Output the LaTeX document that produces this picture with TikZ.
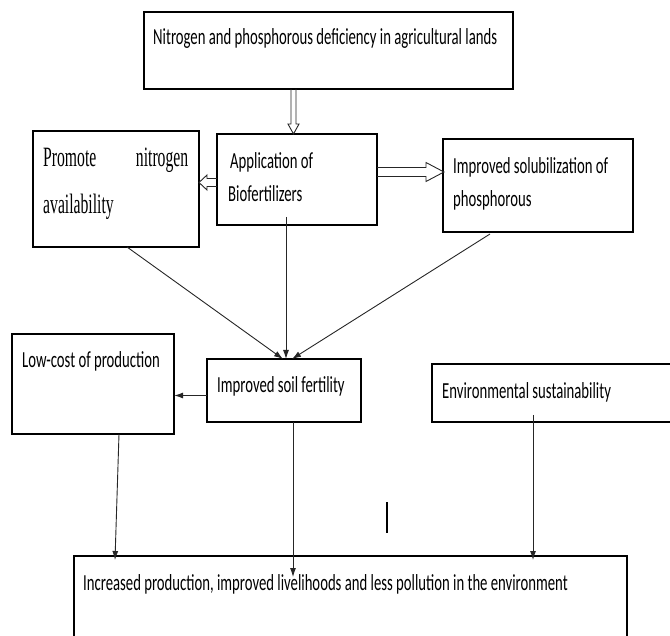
\documentclass[tikz,border=0pt]{standalone}
\usepackage{fontspec}
\setmainfont{Carlito}
\newfontfamily\calf[FakeStretch=0.64]{Carlito}
\newfontfamily\timesf[FakeStretch=0.56]{Liberation Serif}
\usetikzlibrary{calc,arrows.meta}
\begin{document}
\begin{tikzpicture}[x=1pt,y=-1pt,
  box/.style={draw=black, line width=1.2pt, anchor=north west, inner sep=0pt, outer sep=0pt},
  txt/.style={anchor=base west, inner sep=0pt, font=\calf\fontsize{23}{33}\selectfont, text=black},
  sertxt/.style={anchor=base west, inner sep=0pt, font=\timesf\fontsize{28}{40}\selectfont, text=black},
  conn/.style={draw=black!85, line width=0.9pt, -{Latex[length=9pt,width=6pt]}},
  hollow/.style={draw=black!85, line width=0.9pt, line join=miter}]
\useasboundingbox (0,0) rectangle (670,636);
\clip (0,0) rectangle (670,636);

% boxes
\node[box, minimum width=369pt, minimum height=77pt]  (top)  at (144,12)  {};
\node[box, minimum width=166pt, minimum height=116pt] (prom) at (33,131)  {};
\node[box, minimum width=160pt, minimum height=91pt]  (app)  at (217,134) {};
\node[box, minimum width=190pt, minimum height=93pt]  (sol)  at (443,139) {};
\node[box, minimum width=162pt, minimum height=100pt] (low)  at (12,334)  {};
\node[box, minimum width=154pt, minimum height=63pt]  (soil) at (207,359) {};
\node[box, minimum width=260pt, minimum height=58pt]  (env)  at (432,364) {};
\node[box, minimum width=553pt, minimum height=120pt] (bot)  at (74,556)  {};

% texts
\node[txt] (topT) at ($(top.north west)+(9,33)$) {Nitrogen and phosphorous deficiency in agricultural lands};
\node[sertxt] (promT1) at ($(prom.north west)+(10,36)$) {\makebox[145pt][l]{Promote\hfill nitrogen}};
\node[sertxt] (promT2) at ($(prom.north west)+(10,83)$) {availability};
\node[txt] (appT1) at ($(app.north west)+(13,35)$) {Application of};
\node[txt] (appT2) at ($(app.north west)+(11,68)$) {Biofertilizers};
\node[txt] (solT1) at ($(sol.north west)+(10,35)$) {Improved solubilization of};
\node[txt] (solT2) at ($(sol.north west)+(10,68)$) {phosphorous};
\node[txt] (lowT) at ($(low.north west)+(10,34)$) {Low-cost of production};
\node[txt] (soilT) at ($(soil.north west)+(10,34)$) {Improved soil fertility};
\node[txt] (envT) at ($(env.north west)+(10,35)$) {Environmental sustainability};
\node[txt] (botT) at ($(bot.north west)+(9,34)$) {Increased production, improved livelihoods and less pollution in the environment};

% hollow double arrows
\coordinate (d1) at ($(top.south)+(-35,0)$);
\coordinate (d2) at (d1 |- app.north);
\draw[hollow] ($(d1)+(-2.5,0)$) -- ($(d2)+(-2.5,-10)$) -- ($(d2)+(-5.5,-10)$) -- (d2)
  -- ($(d2)+(5.5,-10)$) -- ($(d2)+(2.5,-10)$) -- ($(d1)+(2.5,0)$);

\coordinate (l1) at ($(app.west)+(0,3)$);
\coordinate (l2) at (l1 -| prom.east);
\draw[hollow] ($(l1)+(0,-4)$) -- ($(l2)+(8,-4)$) -- ($(l2)+(8,-7.5)$) -- (l2)
  -- ($(l2)+(8,7.5)$) -- ($(l2)+(8,4)$) -- ($(l1)+(0,4)$);

\coordinate (r1) at ($(app.east)+(0,-7.5)$);
\coordinate (r2) at (r1 -| sol.west);
\draw[hollow] ($(r1)+(0,-4.5)$) -- ($(r2)+(-17,-4.5)$) -- ($(r2)+(-17,-9.5)$) -- ($(r2)+(1,0)$)
  -- ($(r2)+(-17,9.5)$) -- ($(r2)+(-17,4.5)$) -- ($(r1)+(0,4.5)$);

% connectors
\draw[conn] ($(prom.south west)+(94,0)$) -- ($(soil.north)+(-1,0)$);
\coordinate (aS) at ($(app.south)+(-11,-8)$);
\draw[conn] (aS) -- (aS |- soil.north);
\draw[conn] ($(sol.south west)+(47,2)$) -- ($(soil.north)+(8,0)$);
\coordinate (sW) at ($(soil.west)+(0,5)$);
\draw[conn, line width=1.2pt] (sW) -- (sW -| low.east);
\draw[conn] ($(low.south west)+(107,0)$) -- ($(bot.north west)+(41,4)$);
\coordinate (sS) at ($(soil.south)+(9,0)$);
\coordinate (sB) at (sS |- bot.north);
\draw[conn] (sS) -- ($(sB)+(0,21)$);
\coordinate (eS) at ($(env.south west)+(101,-7)$);
\coordinate (eB) at (eS |- bot.north);
\draw[conn] (eS) -- ($(eB)+(0,4)$);

% stray mark
\coordinate (m1) at (387,502);
\coordinate (m2) at (387,533);
\draw[line width=1.8pt] (m1) -- (m2);
\end{tikzpicture}
\end{document}
